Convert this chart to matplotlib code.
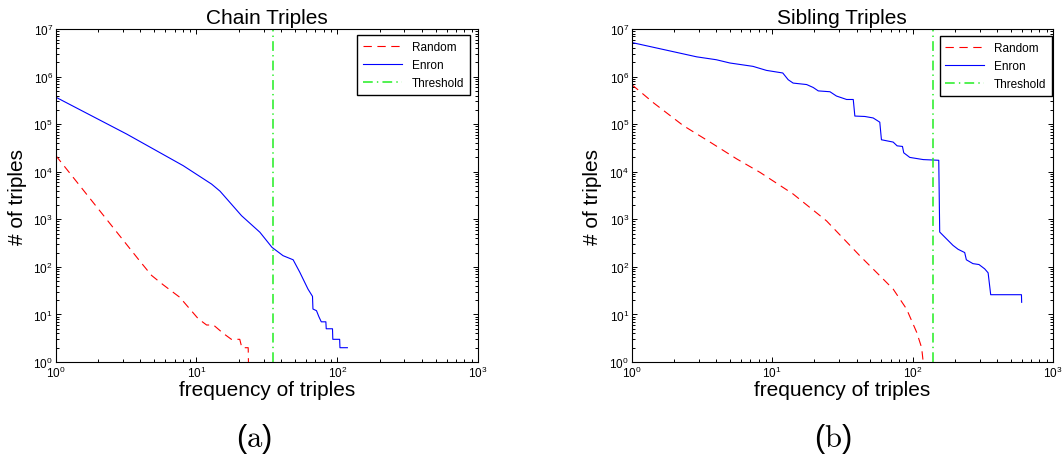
import matplotlib.pyplot as plt
import numpy as np
from matplotlib.ticker import LogLocator, NullFormatter

# ---- data ----
# (a) chain triples
chain_random_x = [1, 2.06, 3.97, 4.8, 5.8, 7.6, 10.3, 11.8, 13.2, 15.5,
                  17.7, 20.3, 21.0, 23.3, 23.4]
chain_random_y = [2.2e4, 1.5e3, 131, 66, 42, 23, 8.1, 6, 6, 4,
                  3, 3, 2, 2, 1]
chain_enron_x = [1, 3.19, 8.05, 12.8, 14.7, 20.9, 28.2, 34.4, 41.2, 48.6, 54.2, 62,
                 66.7, 67.2, 71.2, 74, 77, 83, 83.5, 92.5, 93, 104, 104.5, 118]
chain_enron_y = [3.7e5, 6.2e4, 1.34e4, 5.5e3, 3.9e3, 1.19e3, 535, 257, 172, 141, 77, 34,
                 24, 13, 12, 9, 7, 7, 5, 5, 3, 3, 2, 2]
chain_threshold = 35

# (b) sibling triples
sibling_random_x = [1, 1.43, 2.33, 3.61, 5.59, 8.19, 14.1, 24.4, 42.2, 58.5,
                    72.8, 90.6, 107, 116, 119]
sibling_random_y = [6.8e5, 2.8e5, 9.3e4, 4.2e4, 1.86e4, 9.7e3, 3.4e3, 925, 170, 65,
                    34, 13, 4.2, 2.0, 1]
sibling_enron_x = [1, 2.9, 4.0, 5.0, 7.3, 9.1, 11.9, 13.0, 14.1, 17.6,
                   19.6, 21.3, 25.8, 28.7, 33.9, 37.8, 38.8, 45.7, 52.4, 58.4,
                   60.0, 72.7, 77.6, 84.7, 86.5, 95.5, 119, 153.6, 156, 194,
                   211, 235, 241.5, 269, 297, 326, 345, 360, 596, 598]
sibling_enron_y = [5.2e6, 2.6e6, 2.26e6, 1.93e6, 1.64e6, 1.35e6, 1.19e6, 8.6e5, 7.3e5, 6.8e5,
                   5.9e5, 5.0e5, 4.8e5, 3.9e5, 3.3e5, 3.3e5, 1.48e5, 1.45e5, 1.35e5, 1.1e5,
                   4.7e4, 4.2e4, 3.5e4, 3.4e4, 2.5e4, 2.0e4, 1.8e4, 1.74e4, 540, 283,
                   234, 200, 141, 117, 112, 91, 75, 26, 26, 18]
sibling_threshold = 140

panels = [
    ("Chain Triples", chain_random_x, chain_random_y, chain_enron_x, chain_enron_y,
     chain_threshold, "a"),
    ("Sibling Triples", sibling_random_x, sibling_random_y, sibling_enron_x, sibling_enron_y,
     sibling_threshold, "b"),
]

plt.rcParams['font.family'] = ['Liberation Sans', 'DejaVu Sans']
plt.rcParams['mathtext.fontset'] = 'custom'
plt.rcParams['mathtext.rm'] = 'Liberation Sans'
plt.rcParams['mathtext.it'] = 'Liberation Sans:italic'
plt.rcParams['mathtext.default'] = 'regular'
plt.rcParams['lines.scale_dashes'] = False

fig = plt.figure(figsize=(10.63, 4.56), dpi=100)
axes_rects = [[0.0524, 0.2039, 0.3973, 0.7303], [0.5943, 0.2039, 0.3963, 0.7303]]
legend_anchor = [(0.981, 0.982), (0.998, 0.979)]
ylabel_x = [-0.068, -0.0705]
caption_x = [254 / 1063, 833 / 1063]

for i, (title, rx, ry, ex, ey, thr, tag) in enumerate(panels):
    ax = fig.add_axes(axes_rects[i])
    ax.plot(rx, ry, color="#ff0000", lw=0.8, dashes=(6, 4), label="Random")
    ax.plot(ex, ey, color="#0000ff", lw=0.8, label="Enron")
    ax.axvline(thr, color="#22ee22", lw=1.1, dashes=(7, 3, 1, 3), label="Threshold")

    ax.set_xscale("log")
    ax.set_yscale("log")
    ax.set_xlim(1, 1e3)
    ax.set_ylim(1, 1e7)
    for axis in (ax.xaxis, ax.yaxis):
        axis.set_major_locator(LogLocator(base=10, numticks=20))
        axis.set_minor_locator(LogLocator(base=10, subs=np.arange(2, 10), numticks=20))
        axis.set_minor_formatter(NullFormatter())
    ax.tick_params(which="both", direction="in", top=True, right=True, labelsize=8.5,
                   width=0.7, pad=2)
    ax.tick_params(which="major", length=3.5)
    ax.tick_params(which="minor", length=2)
    for s in ax.spines.values():
        s.set_linewidth(0.8)

    ax.set_title(title, fontsize=15, pad=4)
    ax.set_xlabel("frequency of triples", fontsize=15)
    ax.set_ylabel("# of triples", fontsize=15)
    ax.xaxis.set_label_coords(0.5, -0.055)
    ax.yaxis.set_label_coords(ylabel_x[i], 0.5)

    leg = ax.legend(loc="upper right", bbox_to_anchor=legend_anchor[i], borderaxespad=0,
                    fontsize=8.5, fancybox=False, framealpha=1, edgecolor="black",
                    handlelength=3.3, labelspacing=0.5, borderpad=0.5)
    leg.get_frame().set_linewidth(1.0)

    fig.text(caption_x[i], 1 - 439 / 456, r"$(\mathrm{%s})$" % tag, math_fontfamily="cm",
             fontsize=22, ha="center", va="center")

fig.savefig("out.png", dpi=100)
